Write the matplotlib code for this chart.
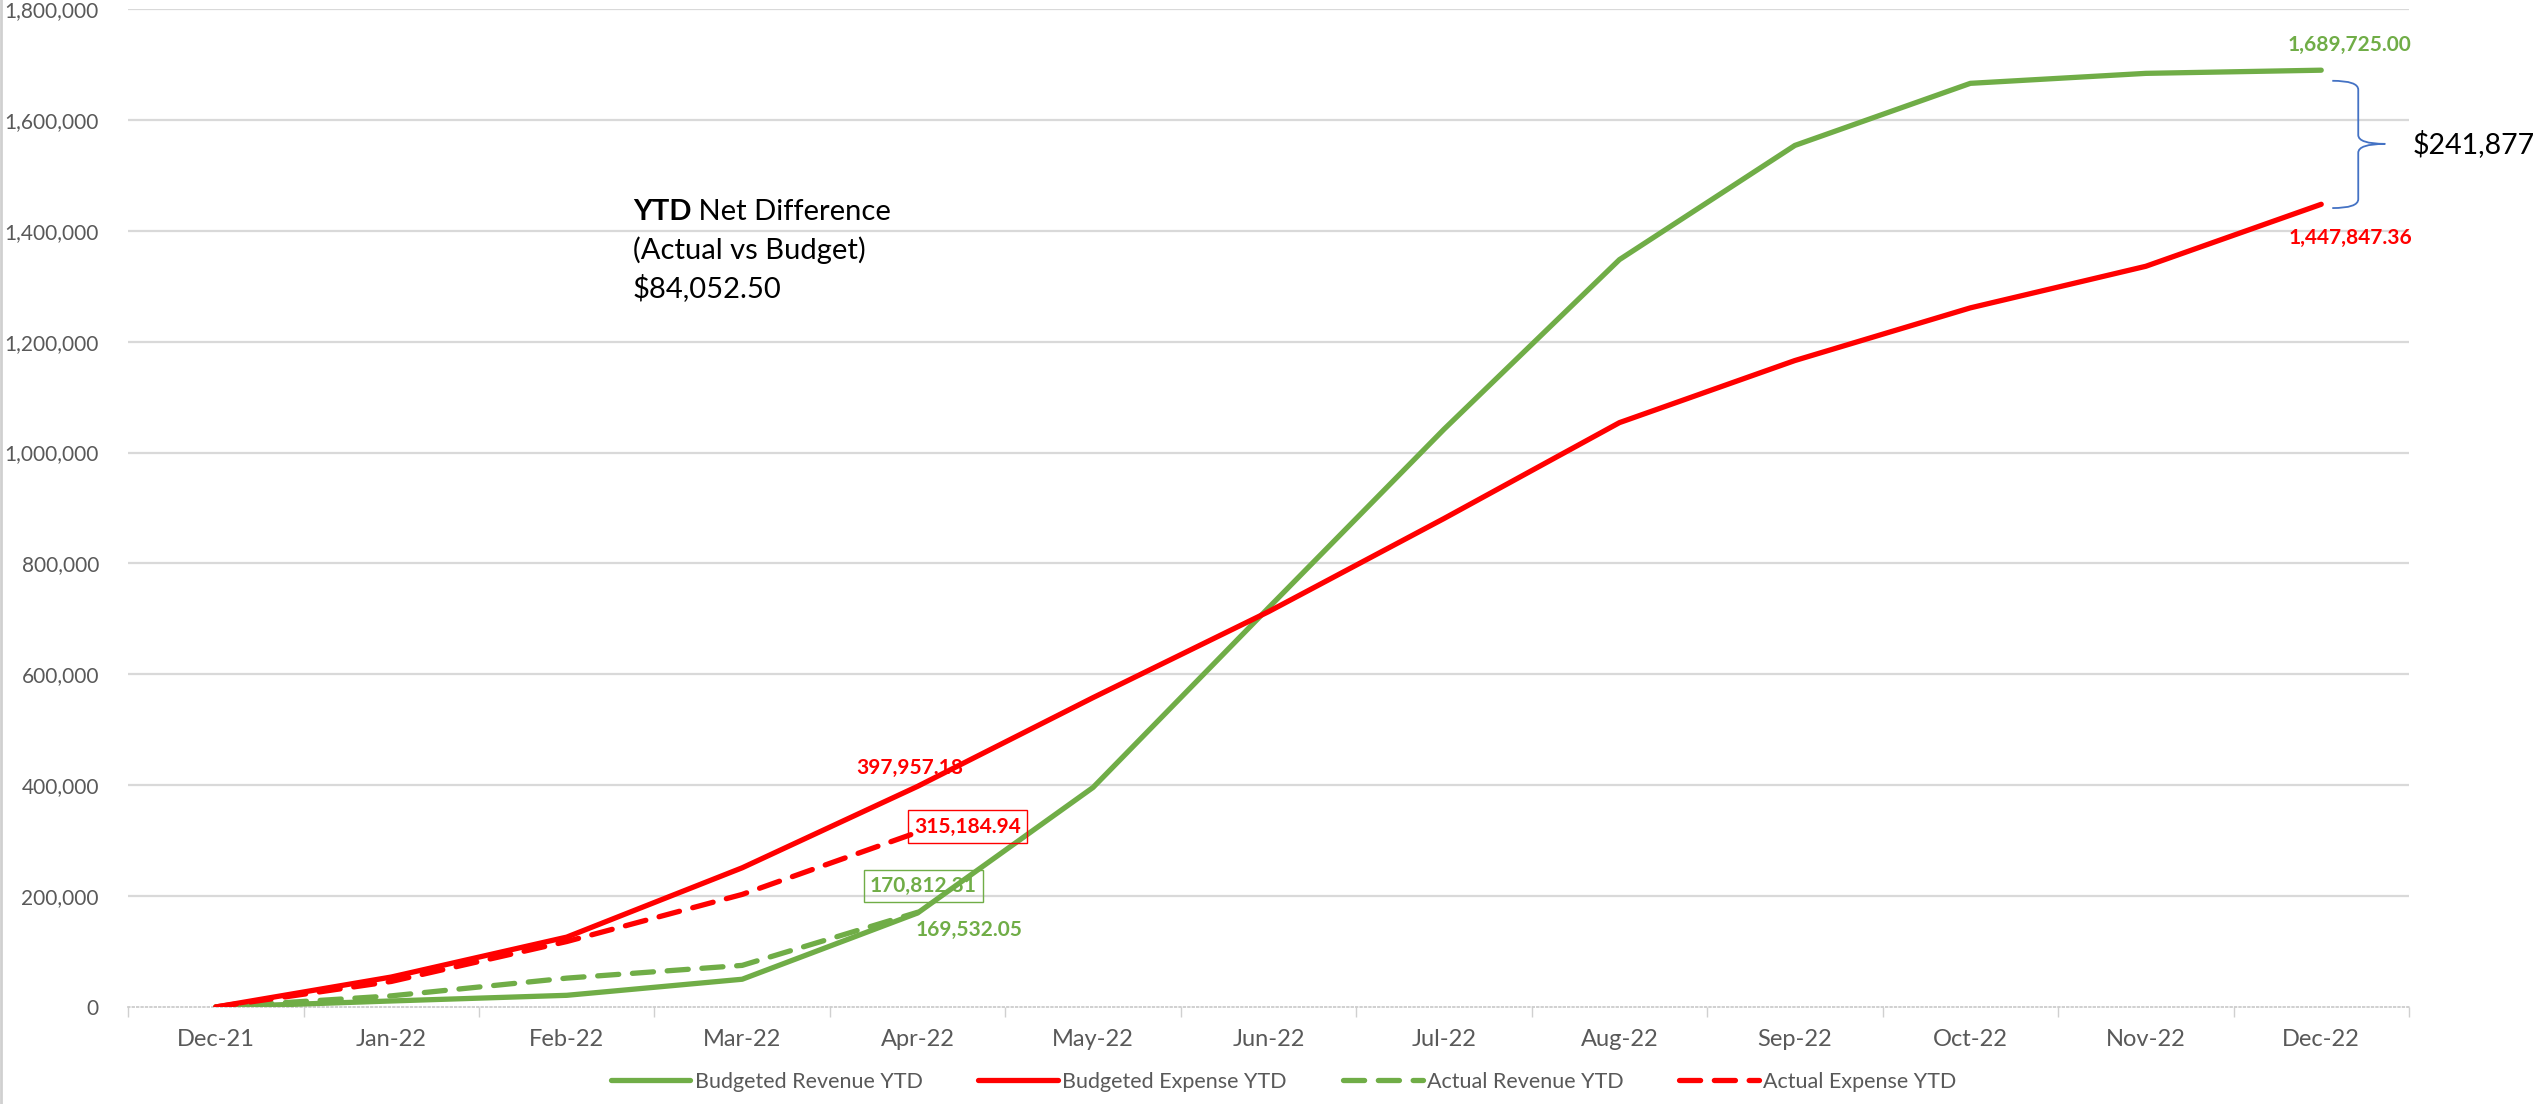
import numpy as np
import matplotlib
matplotlib.use("Agg")
import matplotlib.pyplot as plt
from matplotlib.path import Path
from matplotlib.patches import PathPatch
from matplotlib.lines import Line2D
from matplotlib.ticker import FuncFormatter

plt.rcParams['font.family'] = ['Lato', 'DejaVu Sans']

months = ['Dec-21', 'Jan-22', 'Feb-22', 'Mar-22', 'Apr-22', 'May-22', 'Jun-22',
          'Jul-22', 'Aug-22', 'Sep-22', 'Oct-22', 'Nov-22', 'Dec-22']
budget_rev = [0, 10800, 21000, 50000, 169532.05, 396000, 720000, 1042000,
              1348000, 1554000, 1666000, 1684000, 1689725.00]
budget_exp = [0, 54000, 126000, 251000, 397957.18, 558000, 713000, 881000,
              1054000, 1166000, 1261000, 1336000, 1447847.36]
actual_rev = [0, 20000, 52000, 75000, 170812.31]
actual_exp = [0, 46000, 118000, 203000, 315184.94]
yticks = [0, 200000, 400000, 600000, 800000, 1000000, 1200000, 1400000, 1600000, 1800000]

GREEN = '#70AD47'
RED = '#FF0000'
GRAY = '#595959'

fig = plt.figure(figsize=(25.47, 11.04), dpi=100)
ax = fig.add_axes([0.0503, 0.0879, 0.8955, 0.9039])

x = np.arange(len(months))
xa = np.arange(len(actual_rev))
ax.plot(x, budget_rev, color=GREEN, lw=3.8, label='Budgeted Revenue YTD', solid_capstyle='round', zorder=3)
ax.plot(x, budget_exp, color=RED, lw=3.8, label='Budgeted Expense YTD', solid_capstyle='round', zorder=3)
ax.plot(xa, actual_rev, color=GREEN, lw=3.8, ls=(0, (4, 2.6)), dash_capstyle='round',
        label='Actual Revenue YTD', zorder=4)
ax.plot(xa, actual_exp, color=RED, lw=3.8, ls=(0, (4, 2.6)), dash_capstyle='round',
        label='Actual Expense YTD', zorder=4)

ax.set_xlim(-0.5, len(months) - 0.5)
ax.set_ylim(0, 1800000)
ax.set_xticks(x)
ax.set_xticklabels(months)
ax.set_xticks(np.arange(-0.5, len(months)), minor=True)
ax.set_yticks(yticks)
ax.yaxis.set_major_formatter(FuncFormatter(lambda v, p: f'{v:,.0f}'))
ax.tick_params(axis='x', which='major', length=0, labelsize=17, labelcolor=GRAY, pad=16)
ax.tick_params(axis='x', which='minor', length=7, color='#d0d0d0', width=1)
ax.tick_params(axis='y', length=0, labelsize=15, labelcolor=GRAY, pad=21)
for t in ax.xaxis.get_minorticklines():
    t.set_linestyle(':')

ax.grid(axis='y', color='#d9d9d9', lw=1.6)
ax.yaxis.get_gridlines()[0].set_visible(False)
ax.set_axisbelow(True)
for s in ['top', 'right', 'left']:
    ax.spines[s].set_visible(False)
ax.spines['bottom'].set_color('#c8c8c8')
ax.spines['bottom'].set_linestyle(':')
ax.spines['bottom'].set_linewidth(1.2)

# data labels
lab = dict(fontsize=15, fontweight='bold', ha='center', va='center', textcoords='offset points')
ax.annotate(f'{budget_exp[4]:,.2f}', (4, budget_exp[4]), xytext=(-6, 13), color=RED, **lab)
ax.annotate(f'{actual_exp[4]:,.2f}', (4, actual_exp[4]), xytext=(36, 4), color=RED,
            bbox=dict(boxstyle='square,pad=0.3', fc='none', ec=RED, lw=1), **lab)
ax.annotate(f'{actual_rev[4]:,.2f}', (4, actual_rev[4]), xytext=(4, 19), color=GREEN,
            bbox=dict(boxstyle='square,pad=0.3', fc='none', ec=GREEN, lw=1), **lab)
ax.annotate(f'{budget_rev[4]:,.2f}', (4, budget_rev[4]), xytext=(37, -12), color=GREEN, **lab)
ax.annotate(f'{budget_rev[-1]:,.2f}', (12, budget_rev[-1]), xytext=(20, 18), color=GREEN,
            annotation_clip=False, **lab)
ax.annotate(f'{budget_exp[-1]:,.2f}', (12, budget_exp[-1]), xytext=(21, -24), color=RED,
            annotation_clip=False, **lab)

# brace showing the year-end gap
gap = budget_rev[-1] - budget_exp[-1]
xl, xm, xt = 12.063, 12.211, 12.365
yt, yb = 1670600, 1441000
yc = (yt + yb) / 2 + 1000
d = 16000
verts = [(xl, yt), (xm, yt), (xm, yt - d), (xm, yc + d), (xm, yc), (xt, yc),
         (xm, yc), (xm, yc - d), (xm, yb + d), (xm, yb), (xl, yb)]
codes = [Path.MOVETO, Path.CURVE3, Path.CURVE3, Path.LINETO, Path.CURVE3, Path.CURVE3,
         Path.CURVE3, Path.CURVE3, Path.LINETO, Path.CURVE3, Path.CURVE3]
brace = PathPatch(Path(verts, codes), fc='none', ec='#4472C4', lw=1.3, clip_on=False)
ax.add_patch(brace)
ax.text(12.52, yc, f'${int(gap):,}', fontsize=20.5, ha='left', va='center', color='black', clip_on=False)

# net difference text box
t1 = fig.text(0.2485, 0.808, 'YTD', fontsize=21, fontweight='bold', va='center', ha='left')
ax.annotate(' Net Difference', xy=(1, 0), xycoords=t1, va='bottom', ha='left', fontsize=21)
fig.text(0.2485, 0.7736, '(Actual vs Budget)', fontsize=21, va='center', ha='left')
fig.text(0.2485, 0.739, '$84,052.50', fontsize=21, va='center', ha='left')

ax.legend(loc='center', bbox_to_anchor=(0.504, 0.02), bbox_transform=fig.transFigure,
          ncol=4, frameon=False, fontsize=15.5, handlelength=3.7, handletextpad=0.2,
          columnspacing=2.6, labelcolor=GRAY)

fig.add_artist(Line2D([0.0005, 0.0005], [0, 1], color='#d0d0d0', lw=2))

fig.savefig('out.png', dpi=100)
